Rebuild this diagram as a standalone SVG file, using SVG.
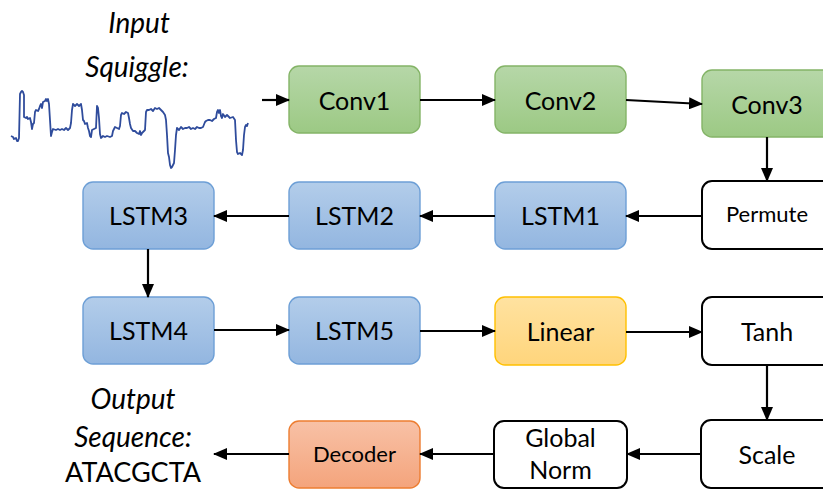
<svg xmlns="http://www.w3.org/2000/svg" width="823" height="489" viewBox="0 0 823 489">
<defs>
<linearGradient id="gGreen" x1="0" y1="0" x2="0" y2="1"><stop offset="0" stop-color="#b6d7a8"/><stop offset="1" stop-color="#9cc984"/></linearGradient>
<linearGradient id="gBlue" x1="0" y1="0" x2="0" y2="1"><stop offset="0" stop-color="#b3cdea"/><stop offset="1" stop-color="#93b6e0"/></linearGradient>
<linearGradient id="gYellow" x1="0" y1="0" x2="0" y2="1"><stop offset="0" stop-color="#ffe2a0"/><stop offset="1" stop-color="#ffd57c"/></linearGradient>
<linearGradient id="gOrange" x1="0" y1="0" x2="0" y2="1"><stop offset="0" stop-color="#f8c1a6"/><stop offset="1" stop-color="#f4a47c"/></linearGradient>
<marker id="arr" markerUnits="userSpaceOnUse" markerWidth="14" markerHeight="12" refX="13" refY="6" orient="auto">
<path d="M0,0 L14,6 L0,12 Z" fill="#000"/>
</marker>
<style>
.green{fill:url(#gGreen);stroke:#84b467;stroke-width:1.4}
.blue{fill:url(#gBlue);stroke:#6d9fd6;stroke-width:1.4}
.yellow{fill:url(#gYellow);stroke:#ffc000;stroke-width:1.4}
.orange{fill:url(#gOrange);stroke:#ed7d31;stroke-width:1.4}
.white{fill:#fff;stroke:#000;stroke-width:2}
.lbl{font-family:Lato,"Open Sans",sans-serif;font-size:25px;fill:#000;text-anchor:middle}
.sm{font-size:22px}
.big{font-size:27px}
.it{font-family:Lato,"Open Sans",sans-serif;font-style:italic;font-size:28px;fill:#000;text-anchor:middle}
.conn line{stroke:#000;stroke-width:2.2;marker-end:url(#arr)}
</style>
</defs>
<rect width="823" height="489" fill="#fff"/>

<g id="input-label">
<text class="it" x="139" y="33">Input</text>
<text class="it" x="137" y="77">Squiggle:</text>
</g>
<g id="squiggle">
<polyline fill="none" stroke="#2f4c9c" stroke-width="1.8" stroke-linejoin="round" points="11,136 13,137 14,139 16,138 17,141 18,141 19,138 20,94 21,92 22,91 23,92 24,95 24,117 26,118 27,117 28,119 30,118 31,122 32,129 33,124 34,123 35,112 36,110 38,111 39,109 40,106 41,104 42,108 43,102 45,101 46,99 47,101 48,99 49,104 50,120 51,136 52,132 53,129 56,130 58,129 60,130 62,129 64,130 66,128 68,130 70,128 71,123 72,110 73,104 75,106 77,104 79,106 81,104 82,110 83,120 84,121 85,124 87,123 88,128 89,131 90,136 91,137 92,130 96,128 97,106 98,108 99,118 100,134 101,138 103,136 105,137 107,136 110,137 112,136 113,131 115,127 117,128 119,129 120,126 121,115 122,113 124,114 126,112 128,113 129,118 130,124 131,128 133,131 135,131 137,133 139,134 140,131 141,135 142,133 145,130 146,112 147,110 149,110 151,109 153,111 155,108 157,109 159,108 161,110 163,112 165,115 166,120 167,135 168,153 169,157 170,165 171,168 172,167 173,165 174,163 175,150 176,135 177,128 179,130 181,127 183,129 185,128 187,128 189,127 191,129 193,128 195,129 197,127 199,128 201,128 203,127 205,122 206,121 208,120 210,120 212,121 214,119 216,118 217,112 218,110 219,113 220,110 221,116 222,118 223,114 225,117 227,115 229,117 230,118 233,117 235,120 236,140 237,152 238,154 240,153 242,155 243,150 244,135 245,127 246,125 247,126 248,123"/>
</g>

<g id="conv1"><rect class="green" x="289" y="66" width="131" height="67" rx="10"/><text class="lbl" x="354.5" y="110">Conv1</text></g>
<g id="conv2"><rect class="green" x="495" y="66" width="131" height="67" rx="10"/><text class="lbl" x="560.5" y="110">Conv2</text></g>
<g id="conv3"><rect class="green" x="702" y="70" width="131" height="67" rx="10"/><text class="lbl" x="767" y="114">Conv3</text></g>

<g id="lstm3"><rect class="blue" x="83" y="182" width="131" height="67" rx="10"/><text class="lbl" x="148.5" y="225">LSTM3</text></g>
<g id="lstm2"><rect class="blue" x="289" y="182" width="131" height="67" rx="10"/><text class="lbl" x="354.5" y="225">LSTM2</text></g>
<g id="lstm1"><rect class="blue" x="495" y="182" width="131" height="67" rx="10"/><text class="lbl" x="560.5" y="225">LSTM1</text></g>
<g id="permute"><rect class="white" x="702" y="181" width="131" height="68" rx="10"/><text class="lbl sm" x="767" y="222">Permute</text></g>

<g id="lstm4"><rect class="blue" x="83" y="297" width="131" height="67" rx="10"/><text class="lbl" x="148.5" y="340">LSTM4</text></g>
<g id="lstm5"><rect class="blue" x="289" y="297" width="131" height="67" rx="10"/><text class="lbl" x="354.5" y="340">LSTM5</text></g>
<g id="linear"><rect class="yellow" x="495" y="297" width="131" height="68" rx="10"/><text class="lbl" x="560.5" y="341">Linear</text></g>
<g id="tanh"><rect class="white" x="702" y="297" width="131" height="68" rx="10"/><text class="lbl" x="767" y="341">Tanh</text></g>

<g id="decoder"><rect class="orange" x="289" y="421" width="131" height="67" rx="10"/><text class="lbl sm" x="354.5" y="462">Decoder</text></g>
<g id="globalnorm"><rect class="white" x="494" y="421" width="133" height="67" rx="10"/><text class="lbl" x="560.5" y="447">Global</text><text class="lbl" x="560.5" y="479">Norm</text></g>
<g id="scale"><rect class="white" x="701" y="420" width="131" height="68" rx="10"/><text class="lbl" x="767" y="464">Scale</text></g>

<g id="output-label">
<text class="it" x="133" y="409">Output</text>
<text class="it" x="133" y="447">Sequence:</text>
<text class="lbl big" x="133" y="482">ATACGCTA</text>
</g>

<g id="connectors" class="conn">
<line x1="262" y1="100" x2="289" y2="100"/>
<line x1="420" y1="100" x2="495" y2="100"/>
<line x1="626" y1="100" x2="702" y2="104"/>
<line x1="767" y1="137" x2="767" y2="181"/>
<line x1="702" y1="216" x2="626" y2="216"/>
<line x1="495" y1="216" x2="420" y2="216"/>
<line x1="289" y1="216" x2="214" y2="216"/>
<line x1="148" y1="249" x2="148" y2="297"/>
<line x1="214" y1="330" x2="289" y2="330"/>
<line x1="420" y1="331" x2="495" y2="331"/>
<line x1="626" y1="332" x2="702" y2="332"/>
<line x1="767" y1="365" x2="767" y2="420"/>
<line x1="701" y1="454" x2="627" y2="454"/>
<line x1="494" y1="454" x2="420" y2="454"/>
<line x1="289" y1="454" x2="214" y2="454"/>
</g>
</svg>
